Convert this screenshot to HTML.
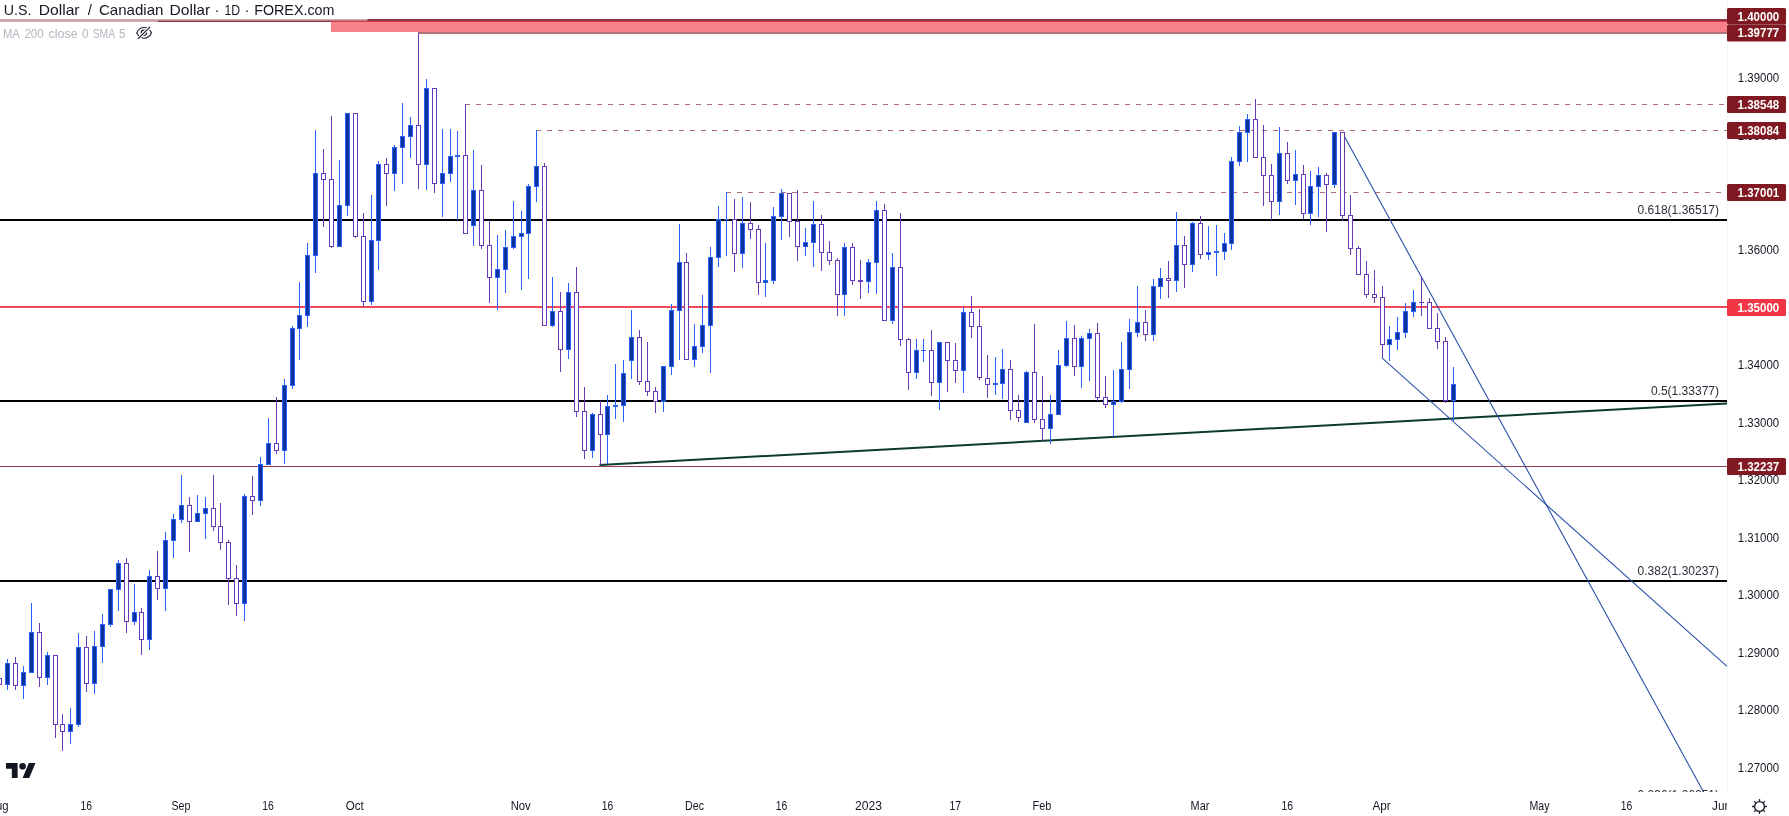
<!DOCTYPE html><html><head><meta charset="utf-8"><title>USDCAD</title><style>
html,body{margin:0;padding:0;background:#fff;}body{width:1789px;height:816px;overflow:hidden;position:relative;font-family:"Liberation Sans",sans-serif;}
svg{position:absolute;left:0;top:0;display:block;will-change:transform;opacity:0.999}
text{font-family:"Liberation Sans",sans-serif;}
.ax{font-size:12px;fill:#131722;}
.tag{font-size:12px;fill:#fff;font-weight:bold;}
.fib{font-size:12px;fill:#2a2e39;}
</style></head><body>
<svg width="1789" height="816" viewBox="0 0 1789 816">
<rect x="0" y="0" width="1789" height="816" fill="#fff"/>
<g shape-rendering="crispEdges">
<rect x="0" y="19" width="1727" height="3" fill="#8c3744"/>
<rect x="331" y="21" width="1396" height="11" fill="#f7828a"/>
<rect x="331" y="21" width="1396" height="1" fill="#d8394c"/>
<rect x="418" y="32" width="1309" height="2" fill="#b3757c"/>
<rect x="465" y="104" width="5" height="1" fill="#b06c76"/>
<rect x="476" y="104" width="5" height="1" fill="#b06c76"/>
<rect x="487" y="104" width="5" height="1" fill="#b06c76"/>
<rect x="498" y="104" width="5" height="1" fill="#b06c76"/>
<rect x="509" y="104" width="5" height="1" fill="#b06c76"/>
<rect x="520" y="104" width="5" height="1" fill="#b06c76"/>
<rect x="531" y="104" width="5" height="1" fill="#b06c76"/>
<rect x="542" y="104" width="5" height="1" fill="#b06c76"/>
<rect x="553" y="104" width="5" height="1" fill="#b06c76"/>
<rect x="564" y="104" width="5" height="1" fill="#b06c76"/>
<rect x="575" y="104" width="5" height="1" fill="#b06c76"/>
<rect x="586" y="104" width="5" height="1" fill="#b06c76"/>
<rect x="597" y="104" width="5" height="1" fill="#b06c76"/>
<rect x="608" y="104" width="5" height="1" fill="#b06c76"/>
<rect x="619" y="104" width="5" height="1" fill="#b06c76"/>
<rect x="630" y="104" width="5" height="1" fill="#b06c76"/>
<rect x="641" y="104" width="5" height="1" fill="#b06c76"/>
<rect x="652" y="104" width="5" height="1" fill="#b06c76"/>
<rect x="663" y="104" width="5" height="1" fill="#b06c76"/>
<rect x="674" y="104" width="5" height="1" fill="#b06c76"/>
<rect x="685" y="104" width="5" height="1" fill="#b06c76"/>
<rect x="696" y="104" width="5" height="1" fill="#b06c76"/>
<rect x="707" y="104" width="5" height="1" fill="#b06c76"/>
<rect x="718" y="104" width="5" height="1" fill="#b06c76"/>
<rect x="729" y="104" width="5" height="1" fill="#b06c76"/>
<rect x="740" y="104" width="5" height="1" fill="#b06c76"/>
<rect x="751" y="104" width="5" height="1" fill="#b06c76"/>
<rect x="762" y="104" width="5" height="1" fill="#b06c76"/>
<rect x="773" y="104" width="5" height="1" fill="#b06c76"/>
<rect x="784" y="104" width="5" height="1" fill="#b06c76"/>
<rect x="795" y="104" width="5" height="1" fill="#b06c76"/>
<rect x="806" y="104" width="5" height="1" fill="#b06c76"/>
<rect x="817" y="104" width="5" height="1" fill="#b06c76"/>
<rect x="828" y="104" width="5" height="1" fill="#b06c76"/>
<rect x="839" y="104" width="5" height="1" fill="#b06c76"/>
<rect x="850" y="104" width="5" height="1" fill="#b06c76"/>
<rect x="861" y="104" width="5" height="1" fill="#b06c76"/>
<rect x="872" y="104" width="5" height="1" fill="#b06c76"/>
<rect x="883" y="104" width="5" height="1" fill="#b06c76"/>
<rect x="894" y="104" width="5" height="1" fill="#b06c76"/>
<rect x="905" y="104" width="5" height="1" fill="#b06c76"/>
<rect x="916" y="104" width="5" height="1" fill="#b06c76"/>
<rect x="927" y="104" width="5" height="1" fill="#b06c76"/>
<rect x="938" y="104" width="5" height="1" fill="#b06c76"/>
<rect x="949" y="104" width="5" height="1" fill="#b06c76"/>
<rect x="960" y="104" width="5" height="1" fill="#b06c76"/>
<rect x="971" y="104" width="5" height="1" fill="#b06c76"/>
<rect x="982" y="104" width="5" height="1" fill="#b06c76"/>
<rect x="993" y="104" width="5" height="1" fill="#b06c76"/>
<rect x="1004" y="104" width="5" height="1" fill="#b06c76"/>
<rect x="1015" y="104" width="5" height="1" fill="#b06c76"/>
<rect x="1026" y="104" width="5" height="1" fill="#b06c76"/>
<rect x="1037" y="104" width="5" height="1" fill="#b06c76"/>
<rect x="1048" y="104" width="5" height="1" fill="#b06c76"/>
<rect x="1059" y="104" width="5" height="1" fill="#b06c76"/>
<rect x="1070" y="104" width="5" height="1" fill="#b06c76"/>
<rect x="1081" y="104" width="5" height="1" fill="#b06c76"/>
<rect x="1092" y="104" width="5" height="1" fill="#b06c76"/>
<rect x="1103" y="104" width="5" height="1" fill="#b06c76"/>
<rect x="1114" y="104" width="5" height="1" fill="#b06c76"/>
<rect x="1125" y="104" width="5" height="1" fill="#b06c76"/>
<rect x="1136" y="104" width="5" height="1" fill="#b06c76"/>
<rect x="1147" y="104" width="5" height="1" fill="#b06c76"/>
<rect x="1158" y="104" width="5" height="1" fill="#b06c76"/>
<rect x="1169" y="104" width="5" height="1" fill="#b06c76"/>
<rect x="1180" y="104" width="5" height="1" fill="#b06c76"/>
<rect x="1191" y="104" width="5" height="1" fill="#b06c76"/>
<rect x="1202" y="104" width="5" height="1" fill="#b06c76"/>
<rect x="1213" y="104" width="5" height="1" fill="#b06c76"/>
<rect x="1224" y="104" width="5" height="1" fill="#b06c76"/>
<rect x="1235" y="104" width="5" height="1" fill="#b06c76"/>
<rect x="1246" y="104" width="5" height="1" fill="#b06c76"/>
<rect x="1257" y="104" width="5" height="1" fill="#b06c76"/>
<rect x="1268" y="104" width="5" height="1" fill="#b06c76"/>
<rect x="1279" y="104" width="5" height="1" fill="#b06c76"/>
<rect x="1290" y="104" width="5" height="1" fill="#b06c76"/>
<rect x="1301" y="104" width="5" height="1" fill="#b06c76"/>
<rect x="1312" y="104" width="5" height="1" fill="#b06c76"/>
<rect x="1323" y="104" width="5" height="1" fill="#b06c76"/>
<rect x="1334" y="104" width="5" height="1" fill="#b06c76"/>
<rect x="1345" y="104" width="5" height="1" fill="#b06c76"/>
<rect x="1356" y="104" width="5" height="1" fill="#b06c76"/>
<rect x="1367" y="104" width="5" height="1" fill="#b06c76"/>
<rect x="1378" y="104" width="5" height="1" fill="#b06c76"/>
<rect x="1389" y="104" width="5" height="1" fill="#b06c76"/>
<rect x="1400" y="104" width="5" height="1" fill="#b06c76"/>
<rect x="1411" y="104" width="5" height="1" fill="#b06c76"/>
<rect x="1422" y="104" width="5" height="1" fill="#b06c76"/>
<rect x="1433" y="104" width="5" height="1" fill="#b06c76"/>
<rect x="1444" y="104" width="5" height="1" fill="#b06c76"/>
<rect x="1455" y="104" width="5" height="1" fill="#b06c76"/>
<rect x="1466" y="104" width="5" height="1" fill="#b06c76"/>
<rect x="1477" y="104" width="5" height="1" fill="#b06c76"/>
<rect x="1488" y="104" width="5" height="1" fill="#b06c76"/>
<rect x="1499" y="104" width="5" height="1" fill="#b06c76"/>
<rect x="1510" y="104" width="5" height="1" fill="#b06c76"/>
<rect x="1521" y="104" width="5" height="1" fill="#b06c76"/>
<rect x="1532" y="104" width="5" height="1" fill="#b06c76"/>
<rect x="1543" y="104" width="5" height="1" fill="#b06c76"/>
<rect x="1554" y="104" width="5" height="1" fill="#b06c76"/>
<rect x="1565" y="104" width="5" height="1" fill="#b06c76"/>
<rect x="1576" y="104" width="5" height="1" fill="#b06c76"/>
<rect x="1587" y="104" width="5" height="1" fill="#b06c76"/>
<rect x="1598" y="104" width="5" height="1" fill="#b06c76"/>
<rect x="1609" y="104" width="5" height="1" fill="#b06c76"/>
<rect x="1620" y="104" width="5" height="1" fill="#b06c76"/>
<rect x="1631" y="104" width="5" height="1" fill="#b06c76"/>
<rect x="1642" y="104" width="5" height="1" fill="#b06c76"/>
<rect x="1653" y="104" width="5" height="1" fill="#b06c76"/>
<rect x="1664" y="104" width="5" height="1" fill="#b06c76"/>
<rect x="1675" y="104" width="5" height="1" fill="#b06c76"/>
<rect x="1686" y="104" width="5" height="1" fill="#b06c76"/>
<rect x="1697" y="104" width="5" height="1" fill="#b06c76"/>
<rect x="1708" y="104" width="5" height="1" fill="#b06c76"/>
<rect x="1719" y="104" width="5" height="1" fill="#b06c76"/>
<rect x="536" y="130" width="5" height="1" fill="#b06c76"/>
<rect x="547" y="130" width="5" height="1" fill="#b06c76"/>
<rect x="558" y="130" width="5" height="1" fill="#b06c76"/>
<rect x="569" y="130" width="5" height="1" fill="#b06c76"/>
<rect x="580" y="130" width="5" height="1" fill="#b06c76"/>
<rect x="591" y="130" width="5" height="1" fill="#b06c76"/>
<rect x="602" y="130" width="5" height="1" fill="#b06c76"/>
<rect x="613" y="130" width="5" height="1" fill="#b06c76"/>
<rect x="624" y="130" width="5" height="1" fill="#b06c76"/>
<rect x="635" y="130" width="5" height="1" fill="#b06c76"/>
<rect x="646" y="130" width="5" height="1" fill="#b06c76"/>
<rect x="657" y="130" width="5" height="1" fill="#b06c76"/>
<rect x="668" y="130" width="5" height="1" fill="#b06c76"/>
<rect x="679" y="130" width="5" height="1" fill="#b06c76"/>
<rect x="690" y="130" width="5" height="1" fill="#b06c76"/>
<rect x="701" y="130" width="5" height="1" fill="#b06c76"/>
<rect x="712" y="130" width="5" height="1" fill="#b06c76"/>
<rect x="723" y="130" width="5" height="1" fill="#b06c76"/>
<rect x="734" y="130" width="5" height="1" fill="#b06c76"/>
<rect x="745" y="130" width="5" height="1" fill="#b06c76"/>
<rect x="756" y="130" width="5" height="1" fill="#b06c76"/>
<rect x="767" y="130" width="5" height="1" fill="#b06c76"/>
<rect x="778" y="130" width="5" height="1" fill="#b06c76"/>
<rect x="789" y="130" width="5" height="1" fill="#b06c76"/>
<rect x="800" y="130" width="5" height="1" fill="#b06c76"/>
<rect x="811" y="130" width="5" height="1" fill="#b06c76"/>
<rect x="822" y="130" width="5" height="1" fill="#b06c76"/>
<rect x="833" y="130" width="5" height="1" fill="#b06c76"/>
<rect x="844" y="130" width="5" height="1" fill="#b06c76"/>
<rect x="855" y="130" width="5" height="1" fill="#b06c76"/>
<rect x="866" y="130" width="5" height="1" fill="#b06c76"/>
<rect x="877" y="130" width="5" height="1" fill="#b06c76"/>
<rect x="888" y="130" width="5" height="1" fill="#b06c76"/>
<rect x="899" y="130" width="5" height="1" fill="#b06c76"/>
<rect x="910" y="130" width="5" height="1" fill="#b06c76"/>
<rect x="921" y="130" width="5" height="1" fill="#b06c76"/>
<rect x="932" y="130" width="5" height="1" fill="#b06c76"/>
<rect x="943" y="130" width="5" height="1" fill="#b06c76"/>
<rect x="954" y="130" width="5" height="1" fill="#b06c76"/>
<rect x="965" y="130" width="5" height="1" fill="#b06c76"/>
<rect x="976" y="130" width="5" height="1" fill="#b06c76"/>
<rect x="987" y="130" width="5" height="1" fill="#b06c76"/>
<rect x="998" y="130" width="5" height="1" fill="#b06c76"/>
<rect x="1009" y="130" width="5" height="1" fill="#b06c76"/>
<rect x="1020" y="130" width="5" height="1" fill="#b06c76"/>
<rect x="1031" y="130" width="5" height="1" fill="#b06c76"/>
<rect x="1042" y="130" width="5" height="1" fill="#b06c76"/>
<rect x="1053" y="130" width="5" height="1" fill="#b06c76"/>
<rect x="1064" y="130" width="5" height="1" fill="#b06c76"/>
<rect x="1075" y="130" width="5" height="1" fill="#b06c76"/>
<rect x="1086" y="130" width="5" height="1" fill="#b06c76"/>
<rect x="1097" y="130" width="5" height="1" fill="#b06c76"/>
<rect x="1108" y="130" width="5" height="1" fill="#b06c76"/>
<rect x="1119" y="130" width="5" height="1" fill="#b06c76"/>
<rect x="1130" y="130" width="5" height="1" fill="#b06c76"/>
<rect x="1141" y="130" width="5" height="1" fill="#b06c76"/>
<rect x="1152" y="130" width="5" height="1" fill="#b06c76"/>
<rect x="1163" y="130" width="5" height="1" fill="#b06c76"/>
<rect x="1174" y="130" width="5" height="1" fill="#b06c76"/>
<rect x="1185" y="130" width="5" height="1" fill="#b06c76"/>
<rect x="1196" y="130" width="5" height="1" fill="#b06c76"/>
<rect x="1207" y="130" width="5" height="1" fill="#b06c76"/>
<rect x="1218" y="130" width="5" height="1" fill="#b06c76"/>
<rect x="1229" y="130" width="5" height="1" fill="#b06c76"/>
<rect x="1240" y="130" width="5" height="1" fill="#b06c76"/>
<rect x="1251" y="130" width="5" height="1" fill="#b06c76"/>
<rect x="1262" y="130" width="5" height="1" fill="#b06c76"/>
<rect x="1273" y="130" width="5" height="1" fill="#b06c76"/>
<rect x="1284" y="130" width="5" height="1" fill="#b06c76"/>
<rect x="1295" y="130" width="5" height="1" fill="#b06c76"/>
<rect x="1306" y="130" width="5" height="1" fill="#b06c76"/>
<rect x="1317" y="130" width="5" height="1" fill="#b06c76"/>
<rect x="1328" y="130" width="5" height="1" fill="#b06c76"/>
<rect x="1339" y="130" width="5" height="1" fill="#b06c76"/>
<rect x="1350" y="130" width="5" height="1" fill="#b06c76"/>
<rect x="1361" y="130" width="5" height="1" fill="#b06c76"/>
<rect x="1372" y="130" width="5" height="1" fill="#b06c76"/>
<rect x="1383" y="130" width="5" height="1" fill="#b06c76"/>
<rect x="1394" y="130" width="5" height="1" fill="#b06c76"/>
<rect x="1405" y="130" width="5" height="1" fill="#b06c76"/>
<rect x="1416" y="130" width="5" height="1" fill="#b06c76"/>
<rect x="1427" y="130" width="5" height="1" fill="#b06c76"/>
<rect x="1438" y="130" width="5" height="1" fill="#b06c76"/>
<rect x="1449" y="130" width="5" height="1" fill="#b06c76"/>
<rect x="1460" y="130" width="5" height="1" fill="#b06c76"/>
<rect x="1471" y="130" width="5" height="1" fill="#b06c76"/>
<rect x="1482" y="130" width="5" height="1" fill="#b06c76"/>
<rect x="1493" y="130" width="5" height="1" fill="#b06c76"/>
<rect x="1504" y="130" width="5" height="1" fill="#b06c76"/>
<rect x="1515" y="130" width="5" height="1" fill="#b06c76"/>
<rect x="1526" y="130" width="5" height="1" fill="#b06c76"/>
<rect x="1537" y="130" width="5" height="1" fill="#b06c76"/>
<rect x="1548" y="130" width="5" height="1" fill="#b06c76"/>
<rect x="1559" y="130" width="5" height="1" fill="#b06c76"/>
<rect x="1570" y="130" width="5" height="1" fill="#b06c76"/>
<rect x="1581" y="130" width="5" height="1" fill="#b06c76"/>
<rect x="1592" y="130" width="5" height="1" fill="#b06c76"/>
<rect x="1603" y="130" width="5" height="1" fill="#b06c76"/>
<rect x="1614" y="130" width="5" height="1" fill="#b06c76"/>
<rect x="1625" y="130" width="5" height="1" fill="#b06c76"/>
<rect x="1636" y="130" width="5" height="1" fill="#b06c76"/>
<rect x="1647" y="130" width="5" height="1" fill="#b06c76"/>
<rect x="1658" y="130" width="5" height="1" fill="#b06c76"/>
<rect x="1669" y="130" width="5" height="1" fill="#b06c76"/>
<rect x="1680" y="130" width="5" height="1" fill="#b06c76"/>
<rect x="1691" y="130" width="5" height="1" fill="#b06c76"/>
<rect x="1702" y="130" width="5" height="1" fill="#b06c76"/>
<rect x="1713" y="130" width="5" height="1" fill="#b06c76"/>
<rect x="1724" y="130" width="3" height="1" fill="#b06c76"/>
<rect x="726" y="192" width="5" height="1" fill="#b06c76"/>
<rect x="737" y="192" width="5" height="1" fill="#b06c76"/>
<rect x="748" y="192" width="5" height="1" fill="#b06c76"/>
<rect x="759" y="192" width="5" height="1" fill="#b06c76"/>
<rect x="770" y="192" width="5" height="1" fill="#b06c76"/>
<rect x="781" y="192" width="5" height="1" fill="#b06c76"/>
<rect x="792" y="192" width="5" height="1" fill="#b06c76"/>
<rect x="803" y="192" width="5" height="1" fill="#b06c76"/>
<rect x="814" y="192" width="5" height="1" fill="#b06c76"/>
<rect x="825" y="192" width="5" height="1" fill="#b06c76"/>
<rect x="836" y="192" width="5" height="1" fill="#b06c76"/>
<rect x="847" y="192" width="5" height="1" fill="#b06c76"/>
<rect x="858" y="192" width="5" height="1" fill="#b06c76"/>
<rect x="869" y="192" width="5" height="1" fill="#b06c76"/>
<rect x="880" y="192" width="5" height="1" fill="#b06c76"/>
<rect x="891" y="192" width="5" height="1" fill="#b06c76"/>
<rect x="902" y="192" width="5" height="1" fill="#b06c76"/>
<rect x="913" y="192" width="5" height="1" fill="#b06c76"/>
<rect x="924" y="192" width="5" height="1" fill="#b06c76"/>
<rect x="935" y="192" width="5" height="1" fill="#b06c76"/>
<rect x="946" y="192" width="5" height="1" fill="#b06c76"/>
<rect x="957" y="192" width="5" height="1" fill="#b06c76"/>
<rect x="968" y="192" width="5" height="1" fill="#b06c76"/>
<rect x="979" y="192" width="5" height="1" fill="#b06c76"/>
<rect x="990" y="192" width="5" height="1" fill="#b06c76"/>
<rect x="1001" y="192" width="5" height="1" fill="#b06c76"/>
<rect x="1012" y="192" width="5" height="1" fill="#b06c76"/>
<rect x="1023" y="192" width="5" height="1" fill="#b06c76"/>
<rect x="1034" y="192" width="5" height="1" fill="#b06c76"/>
<rect x="1045" y="192" width="5" height="1" fill="#b06c76"/>
<rect x="1056" y="192" width="5" height="1" fill="#b06c76"/>
<rect x="1067" y="192" width="5" height="1" fill="#b06c76"/>
<rect x="1078" y="192" width="5" height="1" fill="#b06c76"/>
<rect x="1089" y="192" width="5" height="1" fill="#b06c76"/>
<rect x="1100" y="192" width="5" height="1" fill="#b06c76"/>
<rect x="1111" y="192" width="5" height="1" fill="#b06c76"/>
<rect x="1122" y="192" width="5" height="1" fill="#b06c76"/>
<rect x="1133" y="192" width="5" height="1" fill="#b06c76"/>
<rect x="1144" y="192" width="5" height="1" fill="#b06c76"/>
<rect x="1155" y="192" width="5" height="1" fill="#b06c76"/>
<rect x="1166" y="192" width="5" height="1" fill="#b06c76"/>
<rect x="1177" y="192" width="5" height="1" fill="#b06c76"/>
<rect x="1188" y="192" width="5" height="1" fill="#b06c76"/>
<rect x="1199" y="192" width="5" height="1" fill="#b06c76"/>
<rect x="1210" y="192" width="5" height="1" fill="#b06c76"/>
<rect x="1221" y="192" width="5" height="1" fill="#b06c76"/>
<rect x="1232" y="192" width="5" height="1" fill="#b06c76"/>
<rect x="1243" y="192" width="5" height="1" fill="#b06c76"/>
<rect x="1254" y="192" width="5" height="1" fill="#b06c76"/>
<rect x="1265" y="192" width="5" height="1" fill="#b06c76"/>
<rect x="1276" y="192" width="5" height="1" fill="#b06c76"/>
<rect x="1287" y="192" width="5" height="1" fill="#b06c76"/>
<rect x="1298" y="192" width="5" height="1" fill="#b06c76"/>
<rect x="1309" y="192" width="5" height="1" fill="#b06c76"/>
<rect x="1320" y="192" width="5" height="1" fill="#b06c76"/>
<rect x="1331" y="192" width="5" height="1" fill="#b06c76"/>
<rect x="1342" y="192" width="5" height="1" fill="#b06c76"/>
<rect x="1353" y="192" width="5" height="1" fill="#b06c76"/>
<rect x="1364" y="192" width="5" height="1" fill="#b06c76"/>
<rect x="1375" y="192" width="5" height="1" fill="#b06c76"/>
<rect x="1386" y="192" width="5" height="1" fill="#b06c76"/>
<rect x="1397" y="192" width="5" height="1" fill="#b06c76"/>
<rect x="1408" y="192" width="5" height="1" fill="#b06c76"/>
<rect x="1419" y="192" width="5" height="1" fill="#b06c76"/>
<rect x="1430" y="192" width="5" height="1" fill="#b06c76"/>
<rect x="1441" y="192" width="5" height="1" fill="#b06c76"/>
<rect x="1452" y="192" width="5" height="1" fill="#b06c76"/>
<rect x="1463" y="192" width="5" height="1" fill="#b06c76"/>
<rect x="1474" y="192" width="5" height="1" fill="#b06c76"/>
<rect x="1485" y="192" width="5" height="1" fill="#b06c76"/>
<rect x="1496" y="192" width="5" height="1" fill="#b06c76"/>
<rect x="1507" y="192" width="5" height="1" fill="#b06c76"/>
<rect x="1518" y="192" width="5" height="1" fill="#b06c76"/>
<rect x="1529" y="192" width="5" height="1" fill="#b06c76"/>
<rect x="1540" y="192" width="5" height="1" fill="#b06c76"/>
<rect x="1551" y="192" width="5" height="1" fill="#b06c76"/>
<rect x="1562" y="192" width="5" height="1" fill="#b06c76"/>
<rect x="1573" y="192" width="5" height="1" fill="#b06c76"/>
<rect x="1584" y="192" width="5" height="1" fill="#b06c76"/>
<rect x="1595" y="192" width="5" height="1" fill="#b06c76"/>
<rect x="1606" y="192" width="5" height="1" fill="#b06c76"/>
<rect x="1617" y="192" width="5" height="1" fill="#b06c76"/>
<rect x="1628" y="192" width="5" height="1" fill="#b06c76"/>
<rect x="1639" y="192" width="5" height="1" fill="#b06c76"/>
<rect x="1650" y="192" width="5" height="1" fill="#b06c76"/>
<rect x="1661" y="192" width="5" height="1" fill="#b06c76"/>
<rect x="1672" y="192" width="5" height="1" fill="#b06c76"/>
<rect x="1683" y="192" width="5" height="1" fill="#b06c76"/>
<rect x="1694" y="192" width="5" height="1" fill="#b06c76"/>
<rect x="1705" y="192" width="5" height="1" fill="#b06c76"/>
<rect x="1716" y="192" width="5" height="1" fill="#b06c76"/>
<rect x="0" y="219" width="1727" height="2" fill="#000"/>
<rect x="0" y="400" width="1727" height="2" fill="#000"/>
<rect x="0" y="580" width="1727" height="2" fill="#000"/>
<rect x="0" y="306" width="1727" height="2" fill="#f3485a"/>
<rect x="0" y="466" width="1727" height="1" fill="#963c48"/>
</g>
<line x1="599.5" y1="465" x2="1727" y2="403.5" stroke="#0b3b2e" stroke-width="2"/>
<line x1="1342.5" y1="132.9" x2="1703.57" y2="792" stroke="#2a4ea8" stroke-width="1.1"/>
<line x1="1382" y1="357.9" x2="1727" y2="666.3" stroke="#2a4ea8" stroke-width="1.1"/>
<g shape-rendering="crispEdges">
<rect x="-2.5" y="678.5" width="4" height="6" fill="#fff" stroke="#673ab7" stroke-width="1"/>
<rect x="7" y="659" width="1" height="31" fill="#2962ff"/>
<rect x="5" y="663" width="5" height="22" fill="#2962ff"/>
<rect x="6" y="664" width="3" height="20" fill="#0c3299"/>
<rect x="15" y="657" width="1" height="33" fill="#673ab7"/>
<rect x="13" y="663" width="5" height="23" fill="#673ab7"/>
<rect x="14" y="664" width="3" height="21" fill="#fff"/>
<rect x="23" y="666" width="1" height="33" fill="#2962ff"/>
<rect x="21" y="672" width="5" height="14" fill="#2962ff"/>
<rect x="22" y="673" width="3" height="12" fill="#0c3299"/>
<rect x="31" y="603" width="1" height="70" fill="#2962ff"/>
<rect x="29" y="632" width="5" height="41" fill="#2962ff"/>
<rect x="30" y="633" width="3" height="39" fill="#0c3299"/>
<rect x="39" y="623" width="1" height="64" fill="#673ab7"/>
<rect x="37" y="632" width="5" height="46" fill="#673ab7"/>
<rect x="38" y="633" width="3" height="44" fill="#fff"/>
<rect x="47" y="652" width="1" height="33" fill="#2962ff"/>
<rect x="45" y="655" width="5" height="23" fill="#2962ff"/>
<rect x="46" y="656" width="3" height="21" fill="#0c3299"/>
<rect x="55" y="655" width="1" height="83" fill="#673ab7"/>
<rect x="53" y="655" width="5" height="70" fill="#673ab7"/>
<rect x="54" y="656" width="3" height="68" fill="#fff"/>
<rect x="62" y="714" width="1" height="37" fill="#673ab7"/>
<rect x="60" y="724" width="5" height="8" fill="#673ab7"/>
<rect x="61" y="725" width="3" height="6" fill="#fff"/>
<rect x="70" y="708" width="1" height="36" fill="#2962ff"/>
<rect x="68" y="724" width="5" height="8" fill="#2962ff"/>
<rect x="69" y="725" width="3" height="6" fill="#0c3299"/>
<rect x="78" y="633" width="1" height="94" fill="#2962ff"/>
<rect x="76" y="647" width="5" height="78" fill="#2962ff"/>
<rect x="77" y="648" width="3" height="76" fill="#0c3299"/>
<rect x="86" y="636" width="1" height="56" fill="#673ab7"/>
<rect x="84" y="647" width="5" height="37" fill="#673ab7"/>
<rect x="85" y="648" width="3" height="35" fill="#fff"/>
<rect x="94" y="631" width="1" height="63" fill="#2962ff"/>
<rect x="92" y="646" width="5" height="38" fill="#2962ff"/>
<rect x="93" y="647" width="3" height="36" fill="#0c3299"/>
<rect x="102" y="614" width="1" height="49" fill="#2962ff"/>
<rect x="100" y="624" width="5" height="23" fill="#2962ff"/>
<rect x="101" y="625" width="3" height="21" fill="#0c3299"/>
<rect x="110" y="589" width="1" height="38" fill="#2962ff"/>
<rect x="108" y="589" width="5" height="36" fill="#2962ff"/>
<rect x="109" y="590" width="3" height="34" fill="#0c3299"/>
<rect x="118" y="560" width="1" height="51" fill="#2962ff"/>
<rect x="116" y="563" width="5" height="27" fill="#2962ff"/>
<rect x="117" y="564" width="3" height="25" fill="#0c3299"/>
<rect x="126" y="558" width="1" height="75" fill="#673ab7"/>
<rect x="124" y="563" width="5" height="59" fill="#673ab7"/>
<rect x="125" y="564" width="3" height="57" fill="#fff"/>
<rect x="134" y="584" width="1" height="41" fill="#2962ff"/>
<rect x="132" y="612" width="5" height="10" fill="#2962ff"/>
<rect x="133" y="613" width="3" height="8" fill="#0c3299"/>
<rect x="141" y="608" width="1" height="47" fill="#673ab7"/>
<rect x="139" y="612" width="5" height="28" fill="#673ab7"/>
<rect x="140" y="613" width="3" height="26" fill="#fff"/>
<rect x="149" y="570" width="1" height="80" fill="#2962ff"/>
<rect x="147" y="576" width="5" height="64" fill="#2962ff"/>
<rect x="148" y="577" width="3" height="62" fill="#0c3299"/>
<rect x="157" y="551" width="1" height="49" fill="#673ab7"/>
<rect x="155" y="576" width="5" height="13" fill="#673ab7"/>
<rect x="156" y="577" width="3" height="11" fill="#fff"/>
<rect x="165" y="532" width="1" height="79" fill="#2962ff"/>
<rect x="163" y="540" width="5" height="49" fill="#2962ff"/>
<rect x="164" y="541" width="3" height="47" fill="#0c3299"/>
<rect x="173" y="514" width="1" height="44" fill="#2962ff"/>
<rect x="171" y="519" width="5" height="22" fill="#2962ff"/>
<rect x="172" y="520" width="3" height="20" fill="#0c3299"/>
<rect x="181" y="475" width="1" height="48" fill="#2962ff"/>
<rect x="179" y="505" width="5" height="15" fill="#2962ff"/>
<rect x="180" y="506" width="3" height="13" fill="#0c3299"/>
<rect x="189" y="497" width="1" height="55" fill="#673ab7"/>
<rect x="187" y="505" width="5" height="17" fill="#673ab7"/>
<rect x="188" y="506" width="3" height="15" fill="#fff"/>
<rect x="197" y="495" width="1" height="27" fill="#2962ff"/>
<rect x="195" y="513" width="5" height="9" fill="#2962ff"/>
<rect x="196" y="514" width="3" height="7" fill="#0c3299"/>
<rect x="205" y="497" width="1" height="42" fill="#2962ff"/>
<rect x="203" y="508" width="5" height="6" fill="#2962ff"/>
<rect x="204" y="509" width="3" height="4" fill="#0c3299"/>
<rect x="213" y="475" width="1" height="56" fill="#673ab7"/>
<rect x="211" y="508" width="5" height="19" fill="#673ab7"/>
<rect x="212" y="509" width="3" height="17" fill="#fff"/>
<rect x="220" y="503" width="1" height="47" fill="#673ab7"/>
<rect x="218" y="526" width="5" height="17" fill="#673ab7"/>
<rect x="219" y="527" width="3" height="15" fill="#fff"/>
<rect x="228" y="540" width="1" height="65" fill="#673ab7"/>
<rect x="226" y="542" width="5" height="37" fill="#673ab7"/>
<rect x="227" y="543" width="3" height="35" fill="#fff"/>
<rect x="236" y="565" width="1" height="51" fill="#673ab7"/>
<rect x="234" y="578" width="5" height="26" fill="#673ab7"/>
<rect x="235" y="579" width="3" height="24" fill="#fff"/>
<rect x="244" y="494" width="1" height="127" fill="#2962ff"/>
<rect x="242" y="496" width="5" height="108" fill="#2962ff"/>
<rect x="243" y="497" width="3" height="106" fill="#0c3299"/>
<rect x="252" y="476" width="1" height="39" fill="#673ab7"/>
<rect x="250" y="496" width="5" height="5" fill="#673ab7"/>
<rect x="251" y="497" width="3" height="3" fill="#fff"/>
<rect x="260" y="457" width="1" height="49" fill="#2962ff"/>
<rect x="258" y="464" width="5" height="37" fill="#2962ff"/>
<rect x="259" y="465" width="3" height="35" fill="#0c3299"/>
<rect x="268" y="418" width="1" height="47" fill="#2962ff"/>
<rect x="266" y="443" width="5" height="22" fill="#2962ff"/>
<rect x="267" y="444" width="3" height="20" fill="#0c3299"/>
<rect x="276" y="397" width="1" height="57" fill="#673ab7"/>
<rect x="274" y="443" width="5" height="8" fill="#673ab7"/>
<rect x="275" y="444" width="3" height="6" fill="#fff"/>
<rect x="284" y="379" width="1" height="85" fill="#2962ff"/>
<rect x="282" y="385" width="5" height="66" fill="#2962ff"/>
<rect x="283" y="386" width="3" height="64" fill="#0c3299"/>
<rect x="292" y="326" width="1" height="63" fill="#2962ff"/>
<rect x="290" y="328" width="5" height="58" fill="#2962ff"/>
<rect x="291" y="329" width="3" height="56" fill="#0c3299"/>
<rect x="299" y="282" width="1" height="78" fill="#2962ff"/>
<rect x="297" y="315" width="5" height="14" fill="#2962ff"/>
<rect x="298" y="316" width="3" height="12" fill="#0c3299"/>
<rect x="307" y="243" width="1" height="84" fill="#2962ff"/>
<rect x="305" y="255" width="5" height="61" fill="#2962ff"/>
<rect x="306" y="256" width="3" height="59" fill="#0c3299"/>
<rect x="315" y="130" width="1" height="143" fill="#2962ff"/>
<rect x="313" y="173" width="5" height="83" fill="#2962ff"/>
<rect x="314" y="174" width="3" height="81" fill="#0c3299"/>
<rect x="323" y="149" width="1" height="78" fill="#673ab7"/>
<rect x="321" y="173" width="5" height="7" fill="#673ab7"/>
<rect x="322" y="174" width="3" height="5" fill="#fff"/>
<rect x="331" y="116" width="1" height="132" fill="#673ab7"/>
<rect x="329" y="179" width="5" height="68" fill="#673ab7"/>
<rect x="330" y="180" width="3" height="66" fill="#fff"/>
<rect x="339" y="160" width="1" height="87" fill="#2962ff"/>
<rect x="337" y="205" width="5" height="42" fill="#2962ff"/>
<rect x="338" y="206" width="3" height="40" fill="#0c3299"/>
<rect x="347" y="113" width="1" height="103" fill="#2962ff"/>
<rect x="345" y="113" width="5" height="93" fill="#2962ff"/>
<rect x="346" y="114" width="3" height="91" fill="#0c3299"/>
<rect x="355" y="113" width="1" height="125" fill="#673ab7"/>
<rect x="353" y="113" width="5" height="124" fill="#673ab7"/>
<rect x="354" y="114" width="3" height="122" fill="#fff"/>
<rect x="363" y="213" width="1" height="94" fill="#673ab7"/>
<rect x="361" y="236" width="5" height="66" fill="#673ab7"/>
<rect x="362" y="237" width="3" height="64" fill="#fff"/>
<rect x="371" y="195" width="1" height="110" fill="#2962ff"/>
<rect x="369" y="240" width="5" height="62" fill="#2962ff"/>
<rect x="370" y="241" width="3" height="60" fill="#0c3299"/>
<rect x="378" y="161" width="1" height="109" fill="#2962ff"/>
<rect x="376" y="164" width="5" height="77" fill="#2962ff"/>
<rect x="377" y="165" width="3" height="75" fill="#0c3299"/>
<rect x="386" y="158" width="1" height="48" fill="#673ab7"/>
<rect x="384" y="164" width="5" height="10" fill="#673ab7"/>
<rect x="385" y="165" width="3" height="8" fill="#fff"/>
<rect x="394" y="145" width="1" height="46" fill="#2962ff"/>
<rect x="392" y="147" width="5" height="27" fill="#2962ff"/>
<rect x="393" y="148" width="3" height="25" fill="#0c3299"/>
<rect x="402" y="103" width="1" height="81" fill="#2962ff"/>
<rect x="400" y="136" width="5" height="12" fill="#2962ff"/>
<rect x="401" y="137" width="3" height="10" fill="#0c3299"/>
<rect x="410" y="117" width="1" height="41" fill="#2962ff"/>
<rect x="408" y="125" width="5" height="12" fill="#2962ff"/>
<rect x="409" y="126" width="3" height="10" fill="#0c3299"/>
<rect x="418" y="33" width="1" height="156" fill="#673ab7"/>
<rect x="416" y="125" width="5" height="40" fill="#673ab7"/>
<rect x="417" y="126" width="3" height="38" fill="#fff"/>
<rect x="426" y="79" width="1" height="111" fill="#2962ff"/>
<rect x="424" y="88" width="5" height="77" fill="#2962ff"/>
<rect x="425" y="89" width="3" height="75" fill="#0c3299"/>
<rect x="434" y="88" width="1" height="105" fill="#673ab7"/>
<rect x="432" y="88" width="5" height="96" fill="#673ab7"/>
<rect x="433" y="89" width="3" height="94" fill="#fff"/>
<rect x="442" y="129" width="1" height="88" fill="#2962ff"/>
<rect x="440" y="173" width="5" height="11" fill="#2962ff"/>
<rect x="441" y="174" width="3" height="9" fill="#0c3299"/>
<rect x="450" y="129" width="1" height="53" fill="#2962ff"/>
<rect x="448" y="156" width="5" height="18" fill="#2962ff"/>
<rect x="449" y="157" width="3" height="16" fill="#0c3299"/>
<rect x="457" y="131" width="1" height="89" fill="#2962ff"/>
<rect x="455" y="155" width="5" height="2" fill="#2962ff"/>
<rect x="465" y="104" width="1" height="130" fill="#673ab7"/>
<rect x="463" y="155" width="5" height="79" fill="#673ab7"/>
<rect x="464" y="156" width="3" height="77" fill="#fff"/>
<rect x="473" y="150" width="1" height="96" fill="#2962ff"/>
<rect x="471" y="190" width="5" height="36" fill="#2962ff"/>
<rect x="472" y="191" width="3" height="34" fill="#0c3299"/>
<rect x="481" y="165" width="1" height="84" fill="#673ab7"/>
<rect x="479" y="190" width="5" height="56" fill="#673ab7"/>
<rect x="480" y="191" width="3" height="54" fill="#fff"/>
<rect x="489" y="220" width="1" height="83" fill="#673ab7"/>
<rect x="487" y="245" width="5" height="33" fill="#673ab7"/>
<rect x="488" y="246" width="3" height="31" fill="#fff"/>
<rect x="497" y="235" width="1" height="75" fill="#2962ff"/>
<rect x="495" y="269" width="5" height="9" fill="#2962ff"/>
<rect x="496" y="270" width="3" height="7" fill="#0c3299"/>
<rect x="505" y="230" width="1" height="63" fill="#2962ff"/>
<rect x="503" y="247" width="5" height="23" fill="#2962ff"/>
<rect x="504" y="248" width="3" height="21" fill="#0c3299"/>
<rect x="513" y="201" width="1" height="48" fill="#2962ff"/>
<rect x="511" y="236" width="5" height="12" fill="#2962ff"/>
<rect x="512" y="237" width="3" height="10" fill="#0c3299"/>
<rect x="521" y="211" width="1" height="79" fill="#2962ff"/>
<rect x="519" y="233" width="5" height="4" fill="#2962ff"/>
<rect x="520" y="234" width="3" height="2" fill="#0c3299"/>
<rect x="528" y="184" width="1" height="95" fill="#2962ff"/>
<rect x="526" y="186" width="5" height="48" fill="#2962ff"/>
<rect x="527" y="187" width="3" height="46" fill="#0c3299"/>
<rect x="536" y="130" width="1" height="72" fill="#2962ff"/>
<rect x="534" y="166" width="5" height="21" fill="#2962ff"/>
<rect x="535" y="167" width="3" height="19" fill="#0c3299"/>
<rect x="544" y="163" width="1" height="163" fill="#673ab7"/>
<rect x="542" y="166" width="5" height="160" fill="#673ab7"/>
<rect x="543" y="167" width="3" height="158" fill="#fff"/>
<rect x="552" y="277" width="1" height="50" fill="#2962ff"/>
<rect x="550" y="311" width="5" height="15" fill="#2962ff"/>
<rect x="551" y="312" width="3" height="13" fill="#0c3299"/>
<rect x="560" y="292" width="1" height="80" fill="#673ab7"/>
<rect x="558" y="311" width="5" height="39" fill="#673ab7"/>
<rect x="559" y="312" width="3" height="37" fill="#fff"/>
<rect x="568" y="283" width="1" height="76" fill="#2962ff"/>
<rect x="566" y="292" width="5" height="58" fill="#2962ff"/>
<rect x="567" y="293" width="3" height="56" fill="#0c3299"/>
<rect x="576" y="267" width="1" height="150" fill="#673ab7"/>
<rect x="574" y="292" width="5" height="120" fill="#673ab7"/>
<rect x="575" y="293" width="3" height="118" fill="#fff"/>
<rect x="584" y="387" width="1" height="72" fill="#673ab7"/>
<rect x="582" y="411" width="5" height="40" fill="#673ab7"/>
<rect x="583" y="412" width="3" height="38" fill="#fff"/>
<rect x="592" y="413" width="1" height="45" fill="#2962ff"/>
<rect x="590" y="414" width="5" height="37" fill="#2962ff"/>
<rect x="591" y="415" width="3" height="35" fill="#0c3299"/>
<rect x="600" y="401" width="1" height="64" fill="#673ab7"/>
<rect x="598" y="414" width="5" height="21" fill="#673ab7"/>
<rect x="599" y="415" width="3" height="19" fill="#fff"/>
<rect x="607" y="395" width="1" height="69" fill="#2962ff"/>
<rect x="605" y="406" width="5" height="29" fill="#2962ff"/>
<rect x="606" y="407" width="3" height="27" fill="#0c3299"/>
<rect x="615" y="364" width="1" height="55" fill="#2962ff"/>
<rect x="613" y="405" width="5" height="2" fill="#2962ff"/>
<rect x="623" y="360" width="1" height="62" fill="#2962ff"/>
<rect x="621" y="373" width="5" height="33" fill="#2962ff"/>
<rect x="622" y="374" width="3" height="31" fill="#0c3299"/>
<rect x="631" y="310" width="1" height="69" fill="#2962ff"/>
<rect x="629" y="337" width="5" height="24" fill="#2962ff"/>
<rect x="630" y="338" width="3" height="22" fill="#0c3299"/>
<rect x="639" y="330" width="1" height="55" fill="#673ab7"/>
<rect x="637" y="337" width="5" height="45" fill="#673ab7"/>
<rect x="638" y="338" width="3" height="43" fill="#fff"/>
<rect x="647" y="342" width="1" height="54" fill="#673ab7"/>
<rect x="645" y="381" width="5" height="11" fill="#673ab7"/>
<rect x="646" y="382" width="3" height="9" fill="#fff"/>
<rect x="655" y="387" width="1" height="26" fill="#673ab7"/>
<rect x="653" y="391" width="5" height="11" fill="#673ab7"/>
<rect x="654" y="392" width="3" height="9" fill="#fff"/>
<rect x="663" y="366" width="1" height="46" fill="#2962ff"/>
<rect x="661" y="366" width="5" height="36" fill="#2962ff"/>
<rect x="662" y="367" width="3" height="34" fill="#0c3299"/>
<rect x="671" y="304" width="1" height="71" fill="#2962ff"/>
<rect x="669" y="310" width="5" height="57" fill="#2962ff"/>
<rect x="670" y="311" width="3" height="55" fill="#0c3299"/>
<rect x="679" y="224" width="1" height="136" fill="#2962ff"/>
<rect x="677" y="262" width="5" height="49" fill="#2962ff"/>
<rect x="678" y="263" width="3" height="47" fill="#0c3299"/>
<rect x="686" y="253" width="1" height="107" fill="#673ab7"/>
<rect x="684" y="262" width="5" height="98" fill="#673ab7"/>
<rect x="685" y="263" width="3" height="96" fill="#fff"/>
<rect x="694" y="324" width="1" height="43" fill="#2962ff"/>
<rect x="692" y="346" width="5" height="14" fill="#2962ff"/>
<rect x="693" y="347" width="3" height="12" fill="#0c3299"/>
<rect x="702" y="295" width="1" height="58" fill="#2962ff"/>
<rect x="700" y="325" width="5" height="22" fill="#2962ff"/>
<rect x="701" y="326" width="3" height="20" fill="#0c3299"/>
<rect x="710" y="247" width="1" height="126" fill="#2962ff"/>
<rect x="708" y="257" width="5" height="69" fill="#2962ff"/>
<rect x="709" y="258" width="3" height="67" fill="#0c3299"/>
<rect x="718" y="206" width="1" height="61" fill="#2962ff"/>
<rect x="716" y="219" width="5" height="39" fill="#2962ff"/>
<rect x="717" y="220" width="3" height="37" fill="#0c3299"/>
<rect x="726" y="192" width="1" height="64" fill="#2962ff"/>
<rect x="724" y="219" width="5" height="1" fill="#2962ff"/>
<rect x="734" y="199" width="1" height="73" fill="#673ab7"/>
<rect x="732" y="219" width="5" height="35" fill="#673ab7"/>
<rect x="733" y="220" width="3" height="33" fill="#fff"/>
<rect x="742" y="197" width="1" height="71" fill="#2962ff"/>
<rect x="740" y="223" width="5" height="31" fill="#2962ff"/>
<rect x="741" y="224" width="3" height="29" fill="#0c3299"/>
<rect x="750" y="202" width="1" height="37" fill="#673ab7"/>
<rect x="748" y="223" width="5" height="7" fill="#673ab7"/>
<rect x="749" y="224" width="3" height="5" fill="#fff"/>
<rect x="758" y="225" width="1" height="70" fill="#673ab7"/>
<rect x="756" y="229" width="5" height="54" fill="#673ab7"/>
<rect x="757" y="230" width="3" height="52" fill="#fff"/>
<rect x="765" y="243" width="1" height="54" fill="#2962ff"/>
<rect x="763" y="280" width="5" height="3" fill="#2962ff"/>
<rect x="764" y="281" width="3" height="1" fill="#0c3299"/>
<rect x="773" y="207" width="1" height="77" fill="#2962ff"/>
<rect x="771" y="216" width="5" height="65" fill="#2962ff"/>
<rect x="772" y="217" width="3" height="63" fill="#0c3299"/>
<rect x="781" y="189" width="1" height="51" fill="#2962ff"/>
<rect x="779" y="193" width="5" height="24" fill="#2962ff"/>
<rect x="780" y="194" width="3" height="22" fill="#0c3299"/>
<rect x="789" y="193" width="1" height="44" fill="#673ab7"/>
<rect x="787" y="193" width="5" height="29" fill="#673ab7"/>
<rect x="788" y="194" width="3" height="27" fill="#fff"/>
<rect x="797" y="190" width="1" height="71" fill="#673ab7"/>
<rect x="795" y="221" width="5" height="26" fill="#673ab7"/>
<rect x="796" y="222" width="3" height="24" fill="#fff"/>
<rect x="805" y="228" width="1" height="28" fill="#2962ff"/>
<rect x="803" y="242" width="5" height="5" fill="#2962ff"/>
<rect x="804" y="243" width="3" height="3" fill="#0c3299"/>
<rect x="813" y="201" width="1" height="66" fill="#2962ff"/>
<rect x="811" y="224" width="5" height="19" fill="#2962ff"/>
<rect x="812" y="225" width="3" height="17" fill="#0c3299"/>
<rect x="821" y="215" width="1" height="56" fill="#673ab7"/>
<rect x="819" y="224" width="5" height="29" fill="#673ab7"/>
<rect x="820" y="225" width="3" height="27" fill="#fff"/>
<rect x="829" y="241" width="1" height="24" fill="#673ab7"/>
<rect x="827" y="252" width="5" height="9" fill="#673ab7"/>
<rect x="828" y="253" width="3" height="7" fill="#fff"/>
<rect x="837" y="258" width="1" height="58" fill="#673ab7"/>
<rect x="835" y="260" width="5" height="35" fill="#673ab7"/>
<rect x="836" y="261" width="3" height="33" fill="#fff"/>
<rect x="844" y="243" width="1" height="73" fill="#2962ff"/>
<rect x="842" y="247" width="5" height="48" fill="#2962ff"/>
<rect x="843" y="248" width="3" height="46" fill="#0c3299"/>
<rect x="852" y="243" width="1" height="42" fill="#673ab7"/>
<rect x="850" y="247" width="5" height="34" fill="#673ab7"/>
<rect x="851" y="248" width="3" height="32" fill="#fff"/>
<rect x="860" y="260" width="1" height="39" fill="#673ab7"/>
<rect x="858" y="280" width="5" height="2" fill="#673ab7"/>
<rect x="868" y="259" width="1" height="34" fill="#2962ff"/>
<rect x="866" y="262" width="5" height="20" fill="#2962ff"/>
<rect x="867" y="263" width="3" height="18" fill="#0c3299"/>
<rect x="876" y="201" width="1" height="93" fill="#2962ff"/>
<rect x="874" y="210" width="5" height="53" fill="#2962ff"/>
<rect x="875" y="211" width="3" height="51" fill="#0c3299"/>
<rect x="884" y="204" width="1" height="117" fill="#673ab7"/>
<rect x="882" y="210" width="5" height="111" fill="#673ab7"/>
<rect x="883" y="211" width="3" height="109" fill="#fff"/>
<rect x="892" y="253" width="1" height="71" fill="#2962ff"/>
<rect x="890" y="267" width="5" height="54" fill="#2962ff"/>
<rect x="891" y="268" width="3" height="52" fill="#0c3299"/>
<rect x="900" y="213" width="1" height="133" fill="#673ab7"/>
<rect x="898" y="267" width="5" height="73" fill="#673ab7"/>
<rect x="899" y="268" width="3" height="71" fill="#fff"/>
<rect x="908" y="338" width="1" height="52" fill="#673ab7"/>
<rect x="906" y="339" width="5" height="34" fill="#673ab7"/>
<rect x="907" y="340" width="3" height="32" fill="#fff"/>
<rect x="916" y="339" width="1" height="40" fill="#2962ff"/>
<rect x="914" y="350" width="5" height="23" fill="#2962ff"/>
<rect x="915" y="351" width="3" height="21" fill="#0c3299"/>
<rect x="923" y="339" width="1" height="23" fill="#2962ff"/>
<rect x="921" y="350" width="5" height="1" fill="#2962ff"/>
<rect x="931" y="330" width="1" height="66" fill="#673ab7"/>
<rect x="929" y="350" width="5" height="33" fill="#673ab7"/>
<rect x="930" y="351" width="3" height="31" fill="#fff"/>
<rect x="939" y="342" width="1" height="68" fill="#2962ff"/>
<rect x="937" y="342" width="5" height="41" fill="#2962ff"/>
<rect x="938" y="343" width="3" height="39" fill="#0c3299"/>
<rect x="947" y="342" width="1" height="50" fill="#673ab7"/>
<rect x="945" y="342" width="5" height="19" fill="#673ab7"/>
<rect x="946" y="343" width="3" height="17" fill="#fff"/>
<rect x="955" y="343" width="1" height="40" fill="#673ab7"/>
<rect x="953" y="360" width="5" height="11" fill="#673ab7"/>
<rect x="954" y="361" width="3" height="9" fill="#fff"/>
<rect x="963" y="307" width="1" height="86" fill="#2962ff"/>
<rect x="961" y="312" width="5" height="59" fill="#2962ff"/>
<rect x="962" y="313" width="3" height="57" fill="#0c3299"/>
<rect x="971" y="296" width="1" height="42" fill="#673ab7"/>
<rect x="969" y="312" width="5" height="15" fill="#673ab7"/>
<rect x="970" y="313" width="3" height="13" fill="#fff"/>
<rect x="979" y="309" width="1" height="71" fill="#673ab7"/>
<rect x="977" y="326" width="5" height="52" fill="#673ab7"/>
<rect x="978" y="327" width="3" height="50" fill="#fff"/>
<rect x="987" y="355" width="1" height="43" fill="#673ab7"/>
<rect x="985" y="378" width="5" height="7" fill="#673ab7"/>
<rect x="986" y="379" width="3" height="5" fill="#fff"/>
<rect x="995" y="357" width="1" height="38" fill="#2962ff"/>
<rect x="993" y="383" width="5" height="2" fill="#2962ff"/>
<rect x="1002" y="349" width="1" height="50" fill="#2962ff"/>
<rect x="1000" y="369" width="5" height="15" fill="#2962ff"/>
<rect x="1001" y="370" width="3" height="13" fill="#0c3299"/>
<rect x="1010" y="360" width="1" height="60" fill="#673ab7"/>
<rect x="1008" y="369" width="5" height="42" fill="#673ab7"/>
<rect x="1009" y="370" width="3" height="40" fill="#fff"/>
<rect x="1018" y="395" width="1" height="27" fill="#673ab7"/>
<rect x="1016" y="410" width="5" height="8" fill="#673ab7"/>
<rect x="1017" y="411" width="3" height="6" fill="#fff"/>
<rect x="1026" y="371" width="1" height="52" fill="#2962ff"/>
<rect x="1024" y="372" width="5" height="51" fill="#2962ff"/>
<rect x="1025" y="373" width="3" height="49" fill="#0c3299"/>
<rect x="1034" y="324" width="1" height="99" fill="#673ab7"/>
<rect x="1032" y="372" width="5" height="48" fill="#673ab7"/>
<rect x="1033" y="373" width="3" height="46" fill="#fff"/>
<rect x="1042" y="376" width="1" height="65" fill="#673ab7"/>
<rect x="1040" y="419" width="5" height="10" fill="#673ab7"/>
<rect x="1041" y="420" width="3" height="8" fill="#fff"/>
<rect x="1050" y="395" width="1" height="49" fill="#2962ff"/>
<rect x="1048" y="414" width="5" height="15" fill="#2962ff"/>
<rect x="1049" y="415" width="3" height="13" fill="#0c3299"/>
<rect x="1058" y="350" width="1" height="65" fill="#2962ff"/>
<rect x="1056" y="365" width="5" height="50" fill="#2962ff"/>
<rect x="1057" y="366" width="3" height="48" fill="#0c3299"/>
<rect x="1066" y="321" width="1" height="46" fill="#2962ff"/>
<rect x="1064" y="338" width="5" height="28" fill="#2962ff"/>
<rect x="1065" y="339" width="3" height="26" fill="#0c3299"/>
<rect x="1074" y="325" width="1" height="51" fill="#673ab7"/>
<rect x="1072" y="338" width="5" height="29" fill="#673ab7"/>
<rect x="1073" y="339" width="3" height="27" fill="#fff"/>
<rect x="1081" y="336" width="1" height="52" fill="#2962ff"/>
<rect x="1079" y="338" width="5" height="29" fill="#2962ff"/>
<rect x="1080" y="339" width="3" height="27" fill="#0c3299"/>
<rect x="1089" y="329" width="1" height="52" fill="#2962ff"/>
<rect x="1087" y="333" width="5" height="6" fill="#2962ff"/>
<rect x="1088" y="334" width="3" height="4" fill="#0c3299"/>
<rect x="1097" y="323" width="1" height="78" fill="#673ab7"/>
<rect x="1095" y="333" width="5" height="65" fill="#673ab7"/>
<rect x="1096" y="334" width="3" height="63" fill="#fff"/>
<rect x="1105" y="376" width="1" height="32" fill="#673ab7"/>
<rect x="1103" y="397" width="5" height="8" fill="#673ab7"/>
<rect x="1104" y="398" width="3" height="6" fill="#fff"/>
<rect x="1113" y="370" width="1" height="67" fill="#2962ff"/>
<rect x="1111" y="401" width="5" height="4" fill="#2962ff"/>
<rect x="1112" y="402" width="3" height="2" fill="#0c3299"/>
<rect x="1121" y="342" width="1" height="61" fill="#2962ff"/>
<rect x="1119" y="369" width="5" height="33" fill="#2962ff"/>
<rect x="1120" y="370" width="3" height="31" fill="#0c3299"/>
<rect x="1129" y="319" width="1" height="70" fill="#2962ff"/>
<rect x="1127" y="332" width="5" height="38" fill="#2962ff"/>
<rect x="1128" y="333" width="3" height="36" fill="#0c3299"/>
<rect x="1137" y="286" width="1" height="51" fill="#2962ff"/>
<rect x="1135" y="322" width="5" height="11" fill="#2962ff"/>
<rect x="1136" y="323" width="3" height="9" fill="#0c3299"/>
<rect x="1145" y="310" width="1" height="31" fill="#673ab7"/>
<rect x="1143" y="322" width="5" height="13" fill="#673ab7"/>
<rect x="1144" y="323" width="3" height="11" fill="#fff"/>
<rect x="1153" y="279" width="1" height="62" fill="#2962ff"/>
<rect x="1151" y="286" width="5" height="49" fill="#2962ff"/>
<rect x="1152" y="287" width="3" height="47" fill="#0c3299"/>
<rect x="1160" y="268" width="1" height="31" fill="#2962ff"/>
<rect x="1158" y="278" width="5" height="9" fill="#2962ff"/>
<rect x="1159" y="279" width="3" height="7" fill="#0c3299"/>
<rect x="1168" y="261" width="1" height="37" fill="#673ab7"/>
<rect x="1166" y="278" width="5" height="3" fill="#673ab7"/>
<rect x="1167" y="279" width="3" height="1" fill="#fff"/>
<rect x="1176" y="212" width="1" height="80" fill="#2962ff"/>
<rect x="1174" y="245" width="5" height="36" fill="#2962ff"/>
<rect x="1175" y="246" width="3" height="34" fill="#0c3299"/>
<rect x="1184" y="236" width="1" height="52" fill="#673ab7"/>
<rect x="1182" y="245" width="5" height="20" fill="#673ab7"/>
<rect x="1183" y="246" width="3" height="18" fill="#fff"/>
<rect x="1192" y="222" width="1" height="50" fill="#2962ff"/>
<rect x="1190" y="223" width="5" height="42" fill="#2962ff"/>
<rect x="1191" y="224" width="3" height="40" fill="#0c3299"/>
<rect x="1200" y="216" width="1" height="43" fill="#673ab7"/>
<rect x="1198" y="223" width="5" height="32" fill="#673ab7"/>
<rect x="1199" y="224" width="3" height="30" fill="#fff"/>
<rect x="1208" y="226" width="1" height="34" fill="#2962ff"/>
<rect x="1206" y="252" width="5" height="3" fill="#2962ff"/>
<rect x="1207" y="253" width="3" height="1" fill="#0c3299"/>
<rect x="1216" y="225" width="1" height="51" fill="#2962ff"/>
<rect x="1214" y="251" width="5" height="2" fill="#2962ff"/>
<rect x="1224" y="233" width="1" height="27" fill="#2962ff"/>
<rect x="1222" y="243" width="5" height="9" fill="#2962ff"/>
<rect x="1223" y="244" width="3" height="7" fill="#0c3299"/>
<rect x="1231" y="157" width="1" height="93" fill="#2962ff"/>
<rect x="1229" y="161" width="5" height="83" fill="#2962ff"/>
<rect x="1230" y="162" width="3" height="81" fill="#0c3299"/>
<rect x="1239" y="126" width="1" height="40" fill="#2962ff"/>
<rect x="1237" y="132" width="5" height="30" fill="#2962ff"/>
<rect x="1238" y="133" width="3" height="28" fill="#0c3299"/>
<rect x="1247" y="114" width="1" height="48" fill="#2962ff"/>
<rect x="1245" y="119" width="5" height="14" fill="#2962ff"/>
<rect x="1246" y="120" width="3" height="12" fill="#0c3299"/>
<rect x="1255" y="99" width="1" height="59" fill="#673ab7"/>
<rect x="1253" y="119" width="5" height="39" fill="#673ab7"/>
<rect x="1254" y="120" width="3" height="37" fill="#fff"/>
<rect x="1263" y="125" width="1" height="81" fill="#673ab7"/>
<rect x="1261" y="157" width="5" height="19" fill="#673ab7"/>
<rect x="1262" y="158" width="3" height="17" fill="#fff"/>
<rect x="1271" y="164" width="1" height="56" fill="#673ab7"/>
<rect x="1269" y="175" width="5" height="27" fill="#673ab7"/>
<rect x="1270" y="176" width="3" height="25" fill="#fff"/>
<rect x="1279" y="127" width="1" height="88" fill="#2962ff"/>
<rect x="1277" y="153" width="5" height="49" fill="#2962ff"/>
<rect x="1278" y="154" width="3" height="47" fill="#0c3299"/>
<rect x="1287" y="142" width="1" height="42" fill="#673ab7"/>
<rect x="1285" y="153" width="5" height="28" fill="#673ab7"/>
<rect x="1286" y="154" width="3" height="26" fill="#fff"/>
<rect x="1295" y="150" width="1" height="55" fill="#2962ff"/>
<rect x="1293" y="174" width="5" height="7" fill="#2962ff"/>
<rect x="1294" y="175" width="3" height="5" fill="#0c3299"/>
<rect x="1303" y="165" width="1" height="54" fill="#673ab7"/>
<rect x="1301" y="174" width="5" height="40" fill="#673ab7"/>
<rect x="1302" y="175" width="3" height="38" fill="#fff"/>
<rect x="1310" y="171" width="1" height="54" fill="#2962ff"/>
<rect x="1308" y="186" width="5" height="28" fill="#2962ff"/>
<rect x="1309" y="187" width="3" height="26" fill="#0c3299"/>
<rect x="1318" y="167" width="1" height="50" fill="#2962ff"/>
<rect x="1316" y="175" width="5" height="12" fill="#2962ff"/>
<rect x="1317" y="176" width="3" height="10" fill="#0c3299"/>
<rect x="1326" y="173" width="1" height="59" fill="#673ab7"/>
<rect x="1324" y="175" width="5" height="10" fill="#673ab7"/>
<rect x="1325" y="176" width="3" height="8" fill="#fff"/>
<rect x="1334" y="132" width="1" height="56" fill="#2962ff"/>
<rect x="1332" y="132" width="5" height="53" fill="#2962ff"/>
<rect x="1333" y="133" width="3" height="51" fill="#0c3299"/>
<rect x="1342" y="132" width="1" height="89" fill="#673ab7"/>
<rect x="1340" y="132" width="5" height="84" fill="#673ab7"/>
<rect x="1341" y="133" width="3" height="82" fill="#fff"/>
<rect x="1350" y="195" width="1" height="60" fill="#673ab7"/>
<rect x="1348" y="215" width="5" height="34" fill="#673ab7"/>
<rect x="1349" y="216" width="3" height="32" fill="#fff"/>
<rect x="1358" y="246" width="1" height="29" fill="#673ab7"/>
<rect x="1356" y="248" width="5" height="27" fill="#673ab7"/>
<rect x="1357" y="249" width="3" height="25" fill="#fff"/>
<rect x="1366" y="261" width="1" height="37" fill="#673ab7"/>
<rect x="1364" y="274" width="5" height="21" fill="#673ab7"/>
<rect x="1365" y="275" width="3" height="19" fill="#fff"/>
<rect x="1374" y="270" width="1" height="33" fill="#673ab7"/>
<rect x="1372" y="294" width="5" height="4" fill="#673ab7"/>
<rect x="1373" y="295" width="3" height="2" fill="#fff"/>
<rect x="1382" y="286" width="1" height="72" fill="#673ab7"/>
<rect x="1380" y="297" width="5" height="48" fill="#673ab7"/>
<rect x="1381" y="298" width="3" height="46" fill="#fff"/>
<rect x="1389" y="326" width="1" height="35" fill="#2962ff"/>
<rect x="1387" y="339" width="5" height="6" fill="#2962ff"/>
<rect x="1388" y="340" width="3" height="4" fill="#0c3299"/>
<rect x="1397" y="317" width="1" height="33" fill="#2962ff"/>
<rect x="1395" y="332" width="5" height="8" fill="#2962ff"/>
<rect x="1396" y="333" width="3" height="6" fill="#0c3299"/>
<rect x="1405" y="303" width="1" height="35" fill="#2962ff"/>
<rect x="1403" y="311" width="5" height="22" fill="#2962ff"/>
<rect x="1404" y="312" width="3" height="20" fill="#0c3299"/>
<rect x="1413" y="290" width="1" height="27" fill="#2962ff"/>
<rect x="1411" y="302" width="5" height="10" fill="#2962ff"/>
<rect x="1412" y="303" width="3" height="8" fill="#0c3299"/>
<rect x="1421" y="276" width="1" height="40" fill="#673ab7"/>
<rect x="1419" y="302" width="5" height="1" fill="#673ab7"/>
<rect x="1429" y="298" width="1" height="31" fill="#673ab7"/>
<rect x="1427" y="302" width="5" height="27" fill="#673ab7"/>
<rect x="1428" y="303" width="3" height="25" fill="#fff"/>
<rect x="1437" y="313" width="1" height="36" fill="#673ab7"/>
<rect x="1435" y="328" width="5" height="14" fill="#673ab7"/>
<rect x="1436" y="329" width="3" height="12" fill="#fff"/>
<rect x="1445" y="337" width="1" height="66" fill="#673ab7"/>
<rect x="1443" y="341" width="5" height="60" fill="#673ab7"/>
<rect x="1444" y="342" width="3" height="58" fill="#fff"/>
<rect x="1453" y="367" width="1" height="54" fill="#2962ff"/>
<rect x="1451" y="384" width="5" height="17" fill="#2962ff"/>
<rect x="1452" y="385" width="3" height="15" fill="#0c3299"/>
</g>
<text class="fib" x="1719" y="214" text-anchor="end">0.618(1.36517)</text>
<text class="fib" x="1719" y="395" text-anchor="end">0.5(1.33377)</text>
<text class="fib" x="1719" y="575" text-anchor="end">0.382(1.30237)</text>
<clipPath id="pc"><rect x="0" y="0" width="1727" height="792"/></clipPath>
<text class="fib" x="1719" y="798.5" text-anchor="end" clip-path="url(#pc)">0.236(1.26251)</text>
<rect x="1727" y="0" width="1" height="792" fill="#f4f5f9"/>
<text class="ax" x="1737.8" y="82.0" textLength="41.3" lengthAdjust="spacingAndGlyphs">1.39000</text>
<text class="ax" x="1737.8" y="140.0" textLength="41.3" lengthAdjust="spacingAndGlyphs">1.38000</text>
<text class="ax" x="1737.8" y="254.2" textLength="41.3" lengthAdjust="spacingAndGlyphs">1.36000</text>
<text class="ax" x="1737.8" y="369.2" textLength="41.3" lengthAdjust="spacingAndGlyphs">1.34000</text>
<text class="ax" x="1737.8" y="427.2" textLength="41.3" lengthAdjust="spacingAndGlyphs">1.33000</text>
<text class="ax" x="1737.8" y="484.2" textLength="41.3" lengthAdjust="spacingAndGlyphs">1.32000</text>
<text class="ax" x="1737.8" y="541.7" textLength="41.3" lengthAdjust="spacingAndGlyphs">1.31000</text>
<text class="ax" x="1737.8" y="598.7" textLength="41.3" lengthAdjust="spacingAndGlyphs">1.30000</text>
<text class="ax" x="1737.8" y="656.7" textLength="41.3" lengthAdjust="spacingAndGlyphs">1.29000</text>
<text class="ax" x="1737.8" y="713.7" textLength="41.3" lengthAdjust="spacingAndGlyphs">1.28000</text>
<text class="ax" x="1737.8" y="771.7" textLength="41.3" lengthAdjust="spacingAndGlyphs">1.27000</text>
<rect x="1727" y="8.0" width="59" height="16.5" rx="1.5" fill="#801922"/>
<text class="tag" x="1737.6" y="20.55" textLength="41.6" lengthAdjust="spacingAndGlyphs">1.40000</text>
<rect x="1727" y="24.5" width="59" height="17" rx="1.5" fill="#801922"/>
<text class="tag" x="1737.6" y="37.3" textLength="41.6" lengthAdjust="spacingAndGlyphs">1.39777</text>
<rect x="1727" y="96.0" width="59" height="17" rx="1.5" fill="#801922"/>
<text class="tag" x="1737.6" y="108.8" textLength="41.6" lengthAdjust="spacingAndGlyphs">1.38548</text>
<rect x="1727" y="122.0" width="59" height="17" rx="1.5" fill="#801922"/>
<text class="tag" x="1737.6" y="134.8" textLength="41.6" lengthAdjust="spacingAndGlyphs">1.38084</text>
<rect x="1727" y="184.0" width="59" height="17" rx="1.5" fill="#801922"/>
<text class="tag" x="1737.6" y="196.8" textLength="41.6" lengthAdjust="spacingAndGlyphs">1.37001</text>
<rect x="1727" y="299.0" width="59" height="17" rx="1.5" fill="#f23645"/>
<text class="tag" x="1737.6" y="311.8" textLength="41.6" lengthAdjust="spacingAndGlyphs">1.35000</text>
<rect x="1727" y="458.0" width="59" height="17" rx="1.5" fill="#801922"/>
<text class="tag" x="1737.6" y="470.8" textLength="41.6" lengthAdjust="spacingAndGlyphs">1.32237</text>
<text class="ax" x="-11.50" y="810.2" textLength="20" lengthAdjust="spacingAndGlyphs">Aug</text>
<text class="ax" x="80.50" y="810.2" textLength="11.5" lengthAdjust="spacingAndGlyphs">16</text>
<text class="ax" x="171.50" y="810.2" textLength="19" lengthAdjust="spacingAndGlyphs">Sep</text>
<text class="ax" x="262.25" y="810.2" textLength="11.5" lengthAdjust="spacingAndGlyphs">16</text>
<text class="ax" x="345.75" y="810.2" textLength="18" lengthAdjust="spacingAndGlyphs">Oct</text>
<text class="ax" x="510.75" y="810.2" textLength="20" lengthAdjust="spacingAndGlyphs">Nov</text>
<text class="ax" x="601.85" y="810.2" textLength="11.5" lengthAdjust="spacingAndGlyphs">16</text>
<text class="ax" x="685.00" y="810.2" textLength="19" lengthAdjust="spacingAndGlyphs">Dec</text>
<text class="ax" x="775.65" y="810.2" textLength="11.5" lengthAdjust="spacingAndGlyphs">16</text>
<text class="ax" x="855.00" y="810.2" textLength="27" lengthAdjust="spacingAndGlyphs">2023</text>
<text class="ax" x="949.50" y="810.2" textLength="11.5" lengthAdjust="spacingAndGlyphs">17</text>
<text class="ax" x="1032.62" y="810.2" textLength="18.75" lengthAdjust="spacingAndGlyphs">Feb</text>
<text class="ax" x="1190.62" y="810.2" textLength="18.75" lengthAdjust="spacingAndGlyphs">Mar</text>
<text class="ax" x="1281.50" y="810.2" textLength="11.5" lengthAdjust="spacingAndGlyphs">16</text>
<text class="ax" x="1372.47" y="810.2" textLength="18.25" lengthAdjust="spacingAndGlyphs">Apr</text>
<text class="ax" x="1529.50" y="810.2" textLength="20" lengthAdjust="spacingAndGlyphs">May</text>
<text class="ax" x="1620.65" y="810.2" textLength="11.5" lengthAdjust="spacingAndGlyphs">16</text>
<clipPath id="bc"><rect x="0" y="792" width="1727" height="25"/></clipPath>
<text class="ax" x="1712" y="810.2" textLength="19" lengthAdjust="spacingAndGlyphs" clip-path="url(#bc)">Jun</text>
<g transform="translate(1759.5,806.5)" fill="none" stroke="#131722" stroke-width="1.3"><circle r="4.9"/>
<line x1="5.50" y1="0.00" x2="7.40" y2="0.00"/>
<line x1="3.89" y1="3.89" x2="5.23" y2="5.23"/>
<line x1="0.00" y1="5.50" x2="0.00" y2="7.40"/>
<line x1="-3.89" y1="3.89" x2="-5.23" y2="5.23"/>
<line x1="-5.50" y1="0.00" x2="-7.40" y2="0.00"/>
<line x1="-3.89" y1="-3.89" x2="-5.23" y2="-5.23"/>
<line x1="-0.00" y1="-5.50" x2="-0.00" y2="-7.40"/>
<line x1="3.89" y1="-3.89" x2="5.23" y2="-5.23"/>
</g>
<rect x="0" y="0" width="367.5" height="20.6" fill="#fff" fill-opacity="0.6"/>
<rect x="0" y="20.6" width="158" height="25" fill="#fff" fill-opacity="0.6"/>
<text x="3.75" y="14.8" style="font-size:15px;fill:#131722" textLength="27.6" lengthAdjust="spacingAndGlyphs">U.S.</text>
<text x="38.8" y="14.8" style="font-size:15px;fill:#131722" textLength="40.7" lengthAdjust="spacingAndGlyphs">Dollar</text>
<text x="89.85" y="14.8" style="font-size:15px;fill:#131722" text-anchor="middle">/</text>
<text x="98.9" y="14.8" style="font-size:15px;fill:#131722" textLength="64.5" lengthAdjust="spacingAndGlyphs">Canadian</text>
<text x="169.5" y="14.8" style="font-size:15px;fill:#131722" textLength="40.7" lengthAdjust="spacingAndGlyphs">Dollar</text>
<text x="216.95" y="14.8" style="font-size:15px;fill:#131722" text-anchor="middle">·</text>
<text x="224.5" y="14.8" style="font-size:15px;fill:#131722" textLength="15.6" lengthAdjust="spacingAndGlyphs">1D</text>
<text x="247.05" y="14.8" style="font-size:15px;fill:#131722" text-anchor="middle">·</text>
<text x="254.2" y="14.8" style="font-size:15px;fill:#131722" textLength="80.2" lengthAdjust="spacingAndGlyphs">FOREX.com</text>
<text x="3" y="37.5" style="font-size:12px;fill:#b2b5be" textLength="16.8" lengthAdjust="spacingAndGlyphs">MA</text>
<text x="24.4" y="37.5" style="font-size:12px;fill:#b2b5be" textLength="19.4" lengthAdjust="spacingAndGlyphs">200</text>
<text x="48.6" y="37.5" style="font-size:12px;fill:#b2b5be" textLength="29.0" lengthAdjust="spacingAndGlyphs">close</text>
<text x="82" y="37.5" style="font-size:12px;fill:#b2b5be" textLength="6.6" lengthAdjust="spacingAndGlyphs">0</text>
<text x="92.7" y="37.5" style="font-size:12px;fill:#b2b5be" textLength="22.5" lengthAdjust="spacingAndGlyphs">SMA</text>
<text x="118.9" y="37.5" style="font-size:12px;fill:#b2b5be" textLength="6.3" lengthAdjust="spacingAndGlyphs">5</text>
<g fill="none" stroke="#1e222d" stroke-width="1.15" stroke-linecap="round"><path d="M136.7 32.8 Q139.3 27.5 144 27.5 Q149 27.5 151.5 32.8 Q149 38.2 144 38.2 Q139.3 38.2 136.7 32.8 Z"/><circle cx="143.9" cy="32.8" r="2.7"/><line x1="138.6" y1="38.2" x2="149.6" y2="27.4" stroke="#fff" stroke-width="3.2" stroke-linecap="butt"/><line x1="138.3" y1="38.5" x2="149.9" y2="27.1"/></g>
<g transform="translate(6,759.7) scale(0.83)" fill="#131722"><path d="M14 22H7V11H0V4h14v18zM28 22h-8l7.5-18h8L28 22z"/><circle cx="20" cy="8" r="4"/></g>
</svg></body></html>
